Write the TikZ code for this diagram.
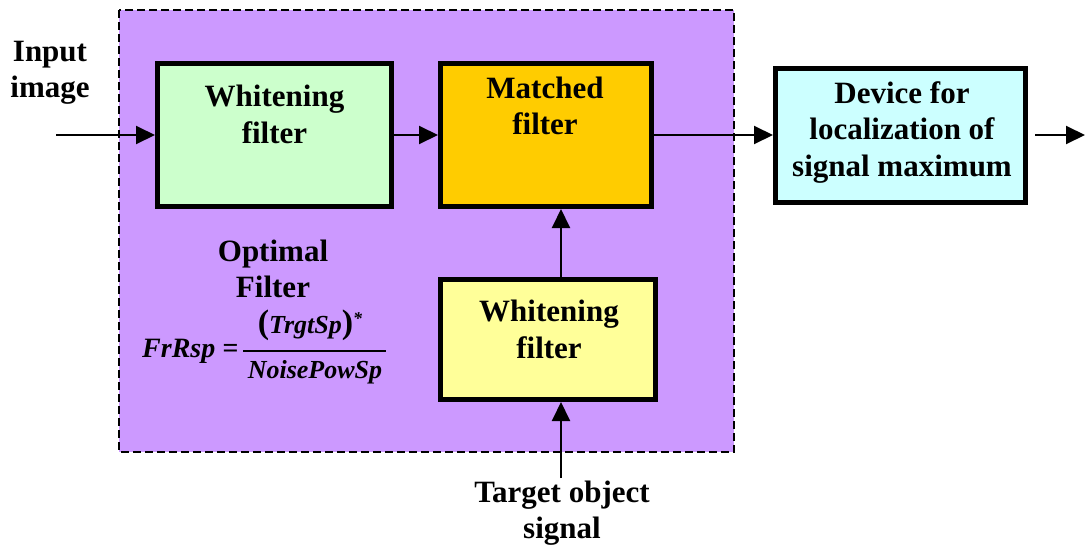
\documentclass[tikz,border=0pt]{standalone}
\usepackage{fontspec}
\setmainfont{Liberation Serif}
\usetikzlibrary{arrows.meta}
\definecolor{optpurple}{HTML}{CC99FF}
\definecolor{wgreen}{HTML}{CCFFCC}
\definecolor{mforange}{HTML}{FFCC00}
\definecolor{devcyan}{HTML}{CCFFFF}
\definecolor{wyellow}{HTML}{FFFF99}
\tikzset{
  lbl/.style={font=\bfseries\fontsize{31}{36.5}\selectfont, align=center, inner sep=0pt},
  fml/.style={font=\bfseries\itshape\fontsize{26}{30}\selectfont, inner sep=0pt},
  blockbox/.style={draw, line width=5pt, inner sep=0pt},
  flow/.style={line width=2pt, -{Triangle[length=19pt,width=18pt]}},
}
\begin{document}
\begin{tikzpicture}[x=1pt,y=-1pt]
\useasboundingbox (0,0) rectangle (1085,552);

% optimal filter region
\draw[fill=optpurple, line width=1.5pt, dash pattern=on 8pt off 4pt] (119,10) rectangle (734,452);

% blocks
\node[blockbox, fill=wgreen, minimum width=234pt, minimum height=143pt] (wf1) at (274.5,135) {};
\node[blockbox, fill=mforange, minimum width=211pt, minimum height=143pt] (mf) at (546,135) {};
\node[blockbox, fill=devcyan, minimum width=250pt, minimum height=134pt] (dev) at (900.5,135.5) {};
\node[blockbox, fill=wyellow, minimum width=215pt, minimum height=120pt] (wf2) at (548,339.5) {};

% block labels
\node[lbl] (wf1txt) at (274.5,114.5) {Whitening\\filter};
\node[lbl] (mftxt) at (545,106) {Matched\\filter};
\node[lbl] (devtxt) at (902,132.5) {Device for\\localization of\\signal maximum};
\node[lbl] (wf2txt) at (549,329.5) {Whitening\\filter};

% free labels
\node[lbl] (inlbl) at (50,73) {Input\\image};
\node[lbl] (optlbl) at (273,269) {Optimal\\Filter};
\node[lbl] (tgtlbl) at (562,513) {Target object\\signal};

% frequency response formula
\node[fml, font=\bfseries\itshape\fontsize{28}{30}\selectfont, anchor=base west] (frl) at (142,357) {FrRsp =};
\node[fml, anchor=base] (num) at (310,333) {{\upshape\fontsize{34}{34}\selectfont(}TrgtSp{\upshape\fontsize{34}{34}\selectfont)}\raisebox{9pt}{\fontsize{18}{18}\selectfont*}};
\node[fml, anchor=base] (den) at (315,378) {NoisePowSp};
\draw[line width=1.5pt] (243,351) -- (386,351);

% connectors
\coordinate (inpt) at (56,135);
\coordinate (outpt) at (1085,135);
\coordinate (vx) at (561,0);
\coordinate (tgtpt) at (561,478);
\draw[flow] (inpt) -- (wf1.west);
\draw[flow] (wf1.east) -- (mf.west);
\draw[flow] (mf.east) -- (dev.west |- mf.east);
\draw[flow] ([xshift=7pt]dev.east |- mf.east) -- (outpt);
\draw[flow] (wf2.north -| vx) -- (mf.south -| vx);
\draw[flow] (tgtpt) -- (wf2.south -| vx);
\end{tikzpicture}
\end{document}
